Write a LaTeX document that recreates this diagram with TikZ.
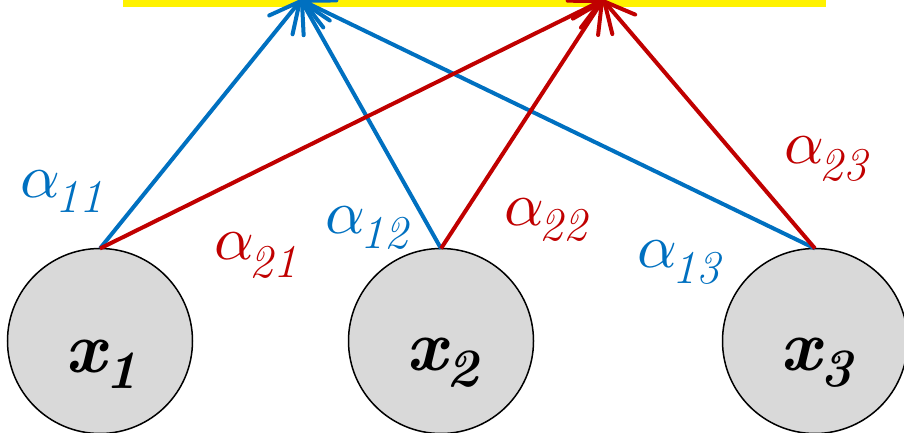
\documentclass[tikz,border=0pt]{standalone}
\usepackage{fontspec}
\usetikzlibrary{arrows.meta}
\definecolor{myblue}{HTML}{0070C0}
\definecolor{myred}{HTML}{C00000}
\definecolor{mygray}{HTML}{D9D9D9}
\newcommand{\alab}[2]{{\scalebox{6.2}{$\alpha$}\kern-4pt\raisebox{-#2pt}{\fontsize{47}{47}\selectfont\itshape #1}}}
\newcommand{\xlab}[1]{{\fontsize{72}{72}\selectfont\bfseries\itshape x\raisebox{-16pt}{\fontsize{54}{54}\selectfont #1}}}
\tikzset{
  xnode/.style={circle, draw=black, line width=1.5pt, fill=mygray, minimum size=185pt, inner sep=0pt, outer sep=0pt},
  conn/.style={line width=4pt, -{Straight Barb[length=30pt,width=30pt,round]}},
  bl/.style={conn, draw=myblue},
  rd/.style={conn, draw=myred},
  lbl/.style={anchor=base west, inner sep=0pt, outer sep=0pt},
}
\begin{document}
\begin{tikzpicture}[x=1pt,y=-1pt]
\useasboundingbox (0,0) rectangle (904,433);
\fill[yellow] (123,0) rectangle (826,7);
\node[xnode] (c1) at (100,341) {};
\node[xnode] (c2) at (441,341) {};
\node[xnode] (c3) at (815,341) {};
\node[lbl] (x1) at (65,372) {\xlab{1}};
\node[lbl] (x2) at (406,370) {\xlab{2}};
\node[lbl] (x3) at (780,370) {\xlab{3}};
\coordinate (t1) at (301,0);
\coordinate (t2) at (603,0);
\draw[bl] (c1.north) -- (t1);
\draw[bl] (c2.north) -- (t1);
\draw[bl] (c3.north) -- (t1);
\draw[rd] (c1.north) -- (t2);
\draw[rd] (c2.north) -- (t2);
\draw[rd] (c3.north) -- (t2);
\node[lbl, text=myblue] (a11) at (20,197) {\alab{11}{15}};
\node[lbl, text=myred]  (a21) at (214,259) {\alab{21}{18}};
\node[lbl, text=myblue] (a12) at (325,233) {\alab{12}{15}};
\node[lbl, text=myred]  (a22) at (504,225) {\alab{22}{15}};
\node[lbl, text=myblue] (a13) at (637,267) {\alab{13}{16}};
\node[lbl, text=myred]  (a23) at (784,163) {\alab{23}{17}};
\end{tikzpicture}
\end{document}
